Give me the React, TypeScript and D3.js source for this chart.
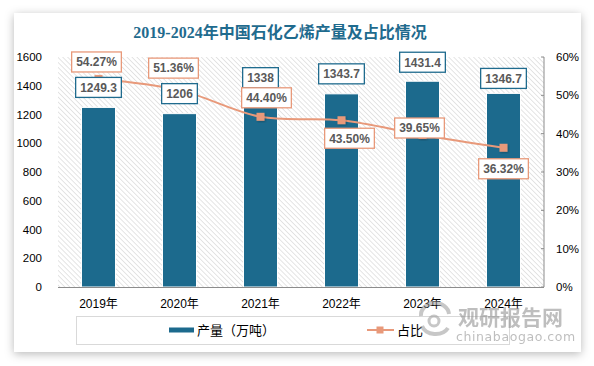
import React from 'react';
import * as d3 from 'd3';

const years = ['2019年', '2020年', '2021年', '2022年', '2023年', '2024年'];
const production = [1249.3, 1206, 1338, 1343.7, 1431.4, 1346.7];
const share = [54.27, 51.36, 44.4, 43.5, 39.65, 36.32];
const leftTicks = [0, 200, 400, 600, 800, 1000, 1200, 1400, 1600];
const rightTicks = [0, 10, 20, 30, 40, 50, 60];
const barLabels = ['1249.3', '1206', '1338', '1343.7', '1431.4', '1346.7'];
const shareLabels = ['54.27%', '51.36%', '44.40%', '43.50%', '39.65%', '36.32%'];

// label placement offsets (layout only)
const barLabelDy = [-20, -20, -17, -20, -19, -15];
const shareLabelDx = [-2, -6, 6, 8, -3, 0];
const shareLabelDy = [-17, -22, -19, 18, -7, 21];

const W = 594;
const H = 366;
const plot = { left: 58, right: 544, top: 57, bottom: 287 };
const BAR = '#1c6a8d';
const LINE = '#e8997a';
const SANS = "'Liberation Sans', 'Noto Sans CJK SC', sans-serif";

let ctx: CanvasRenderingContext2D | null = null;
function measure(text: string, font: string) {
  if (!ctx) ctx = document.createElement('canvas').getContext('2d');
  if (!ctx) return text.length * 7;
  ctx.font = font;
  return ctx.measureText(text).width;
}

function LabelBox({ cx, cy, text, stroke }: { cx: number; cy: number; text: string; stroke: string }) {
  const tw = measure(text, `bold 12px 'Liberation Sans'`);
  const w = tw + 9;
  const h = 20;
  return (
    <g>
      <rect x={cx - w / 2} y={cy - h / 2} width={w} height={h} fill="#fff" stroke={stroke} strokeWidth={1.3} />
      <text x={cx} y={cy + 4.3} textAnchor="middle" fontSize={12} fontWeight="bold" fill="#595959" fontFamily={SANS}>
        {text}
      </text>
    </g>
  );
}

export default function App() {
  const x = d3.scaleBand<string>().domain(years).range([plot.left, plot.right]).paddingInner(0.58).paddingOuter(0.29);
  const yL = d3.scaleLinear().domain([0, 1600]).range([plot.bottom, plot.top]);
  const yR = d3.scaleLinear().domain([0, 60]).range([plot.bottom, plot.top]);
  const cxOf = (y: string) => (x(y) ?? 0) + x.bandwidth() / 2;

  const linePath = d3
    .line<number>()
    .x((_, i) => cxOf(years[i]))
    .y((d) => yR(d))
    .curve(d3.curveCatmullRom.alpha(0.5))(share);

  return (
    <div style={{ position: 'fixed', left: 0, top: 0, width: W, height: H, background: '#fff' }}>
      <svg width={W} height={H} style={{ display: 'block' }}>
        <defs>
          <filter id="cardShadow" x="-10%" y="-10%" width="120%" height="120%">
            <feDropShadow dx="0" dy="2" stdDeviation="5" floodColor="#000" floodOpacity="0.28" />
          </filter>
          <pattern id="hatch" width="3.5" height="3.5" patternUnits="userSpaceOnUse" patternTransform="rotate(-45)">
            <line x1="0" y1="0" x2="0" y2="3.5" stroke="#cfcfcf" strokeWidth="1.1" />
          </pattern>
          <filter id="soft" x="-20%" y="-20%" width="140%" height="140%">
            <feDropShadow dx="1" dy="1" stdDeviation="1" floodColor="#000" floodOpacity="0.25" />
          </filter>
        </defs>
        <rect x={14} y={13} width={567} height={339} fill="#fff" filter="url(#cardShadow)" />

        <text
          x={280}
          y={38}
          textAnchor="middle"
          fontSize={16}
          fontWeight="bold"
          fill="#1f6b8e"
          fontFamily="'Liberation Serif', 'Noto Sans CJK SC', serif"
        >
          2019-2024年中国石化乙烯产量及占比情况
        </text>

        {/* plot area hatch */}
        <rect x={plot.left} y={plot.top} width={plot.right - plot.left} height={plot.bottom - plot.top} fill="url(#hatch)" />

        {/* left axis labels */}
        {leftTicks.map((t) => (
          <text key={t} x={42} y={yL(t) + 4} textAnchor="end" fontSize={11.5} fill="#000" fontFamily={SANS}>
            {t}
          </text>
        ))}
        {/* right axis */}
        <line x1={plot.right} x2={plot.right} y1={plot.top} y2={plot.bottom} stroke="#8c8c8c" strokeWidth={1} />
        {rightTicks.map((t) => (
          <g key={t}>
            <line x1={plot.right - 3} x2={plot.right} y1={yR(t)} y2={yR(t)} stroke="#8c8c8c" strokeWidth={1} />
            <text x={556} y={yR(t) + 4} fontSize={11.5} fill="#000" fontFamily={SANS}>
              {t}%
            </text>
          </g>
        ))}

        {/* bars */}
        {production.map((v, i) => (
          <rect
            key={years[i]}
            x={x(years[i])}
            y={yL(v)}
            width={x.bandwidth()}
            height={plot.bottom - yL(v)}
            fill={BAR}
            stroke="#fff"
            strokeWidth={1}
          />
        ))}

        {/* bottom axis */}
        <line x1={plot.left} x2={plot.right} y1={plot.bottom + 0.5} y2={plot.bottom + 0.5} stroke="#8c8c8c" strokeWidth={1} />
        {years.map((y) => (
          <text key={y} x={cxOf(y)} y={308} textAnchor="middle" fontSize={12} fill="#000" fontFamily={SANS}>
            {y}
          </text>
        ))}

        {/* line */}
        <path d={linePath ?? ''} fill="none" stroke={LINE} strokeWidth={2} />
        {share.map((v, i) => (
          <rect
            key={years[i]}
            x={cxOf(years[i]) - 4}
            y={yR(v) - 4}
            width={8}
            height={8}
            fill={LINE}
            filter="url(#soft)"
          />
        ))}

        {/* bar labels */}
        {production.map((v, i) => (
          <LabelBox key={years[i]} cx={cxOf(years[i])} cy={yL(v) + barLabelDy[i]} text={barLabels[i]} stroke="#1f6b8e" />
        ))}
        {/* share labels */}
        {share.map((v, i) => (
          <LabelBox
            key={years[i]}
            cx={cxOf(years[i]) + shareLabelDx[i]}
            cy={yR(v) + shareLabelDy[i]}
            text={shareLabels[i]}
            stroke={LINE}
          />
        ))}

        {/* legend */}
        <rect x={76.5} y={316.5} width={433} height={28} fill="#fff" stroke="#d9d9d9" strokeWidth={1} />
        <rect x={169} y={327.5} width={25} height={5} fill={BAR} />
        <text x={197} y={334.5} fontSize={13} fill="#000" fontFamily={SANS}>
          产量（万吨）
        </text>
        <line x1={367} x2={394} y1={330} y2={330} stroke={LINE} strokeWidth={2} />
        <rect x={376.5} y={326.5} width={7} height={7} fill={LINE} />
        <text x={397} y={334.5} fontSize={13} fill="#000" fontFamily={SANS}>
          占比
        </text>

        {/* watermark */}
        <g opacity={0.55}>
          <path d="M 421 316 A 14 12 0 0 1 449 314" fill="none" stroke="#9a9a9a" strokeWidth={4} />
          <path d="M 422 326 A 14 11 0 0 0 448 328" fill="none" stroke="#9a9a9a" strokeWidth={4} />
          <circle cx={434} cy={321} r={5} fill="none" stroke="#9a9a9a" strokeWidth={3} />
          <text x={458} y={325} fontSize={21} fontWeight="bold" fill="#8a8a8a" fontFamily="'Noto Sans CJK SC', sans-serif">
            观研报告网
          </text>
          <text x={456} y={341} fontSize={12.5} fill="#8a8a8a" letterSpacing={0.6} fontFamily="'DejaVu Sans', sans-serif">
            chinabaogao.com
          </text>
        </g>
      </svg>
    </div>
  );
}
